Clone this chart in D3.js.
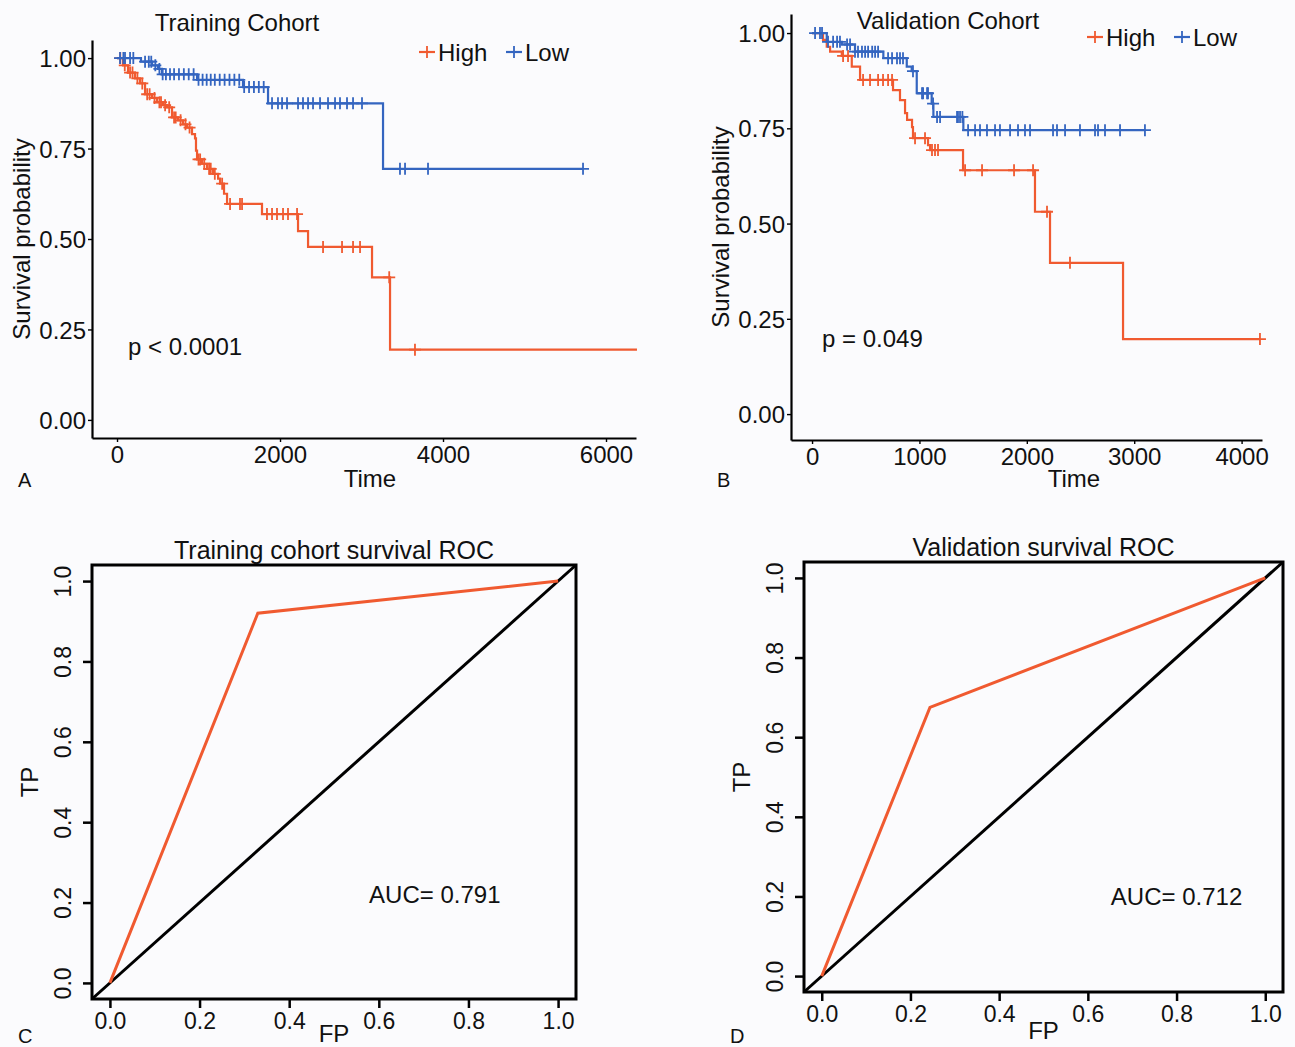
<!DOCTYPE html>
<html>
<head>
<meta charset="utf-8">
<script src="https://cdn.jsdelivr.net/npm/d3@7"></script>
<style>
  body { margin: 0; background: #fbfbfd; }
  text { font-family: "Liberation Sans", Arial, sans-serif; fill: #111; }
</style>
</head>
<body>
<div class="canvas"></div>
<script>
////////// DATA ///////////////////

const groups = ['High', 'Low'];
const survTicks = [0, 0.25, 0.5, 0.75, 1];
const trainTimeTicks = [0, 2000, 4000, 6000];
const validTimeTicks = [0, 1000, 2000, 3000, 4000];
const rocTicks = [0, 0.2, 0.4, 0.6, 0.8, 1];

// training cohort, High risk
const trainHighTime = [74, 135, 220, 282, 344, 430, 490, 565, 613, 675, 748, 810, 859, 920, 957, 969, 982,
    1043, 1104, 1178, 1240, 1264, 1313, 1350, 1779, 2221, 2344, 3129, 3350];
const trainHighSurv = [0.98, 0.96, 0.944, 0.93, 0.90, 0.89, 0.878, 0.87, 0.864, 0.836, 0.828, 0.817, 0.808, 0.79, 0.778, 0.744, 0.72,
    0.708, 0.694, 0.68, 0.667, 0.653, 0.625, 0.597, 0.569, 0.522, 0.478, 0.394, 0.194];
const trainHighCensor = [40, 95, 160, 190, 250, 310, 370, 400, 460, 520, 540, 590, 640, 700, 720, 780, 840, 890,
    1000, 1020, 1070, 1130, 1150, 1200, 1290, 1387, 1509, 1534, 1840, 1902, 1963, 2037, 2098, 2209,
    2528, 2761, 2896, 2982, 3340, 3656];
const trainHighEnd = 6380;

// training cohort, Low risk
const trainLowTime = [294, 430, 503, 552, 982, 1546, 1853, 3264];
const trainLowSurv = [0.99, 0.98, 0.97, 0.955, 0.94, 0.92, 0.875, 0.694];
const trainLowCensor = [37, 78, 98, 160, 200, 344, 390, 420, 470, 520, 560, 600, 650, 700, 760, 820, 880, 940,
    1000, 1050, 1100, 1150, 1200, 1260, 1320, 1380, 1440, 1500, 1560, 1620, 1680, 1740, 1800, 1902, 1975,
    2025, 2086, 2221, 2282, 2344, 2405, 2491, 2589, 2675, 2736, 2822, 2896, 3006, 3472, 3534, 3816, 5718];
const trainLowEnd = 5718;

// validation cohort, High risk
const validHighTime = [102, 137, 168, 277, 370, 447, 754, 819, 866, 885, 931, 940, 1080, 1099, 1406, 2076, 2216, 2896];
const validHighSurv = [0.982, 0.964, 0.951, 0.94, 0.912, 0.877, 0.85, 0.824, 0.79, 0.772, 0.753, 0.724, 0.706, 0.693,
    0.64, 0.531, 0.397, 0.197];
const validHighCensor = [289, 335, 475, 540, 615, 661, 708, 745, 959, 1052, 1117, 1145, 1173, 1425, 1583, 1881,
    2058, 2188, 2402, 4171];
const validHighEnd = 4171;

// validation cohort, Low risk
const validLowTime = [137, 277, 400, 664, 882, 928, 975, 1114, 1130, 1409];
const validLowSurv = [0.977, 0.97, 0.951, 0.934, 0.912, 0.90, 0.842, 0.815, 0.78, 0.745];
const validLowCensor = [28, 74, 93, 149, 196, 233, 260, 326, 354, 400, 428, 465, 494, 522, 560, 587, 615, 708,
    745, 791, 819, 847, 940, 1024, 1034, 1071, 1080, 1127, 1164, 1192, 1350, 1359, 1378, 1400, 1453, 1518,
    1564, 1629, 1704, 1750, 1844, 1918, 1983, 2030, 2244, 2281, 2356, 2495, 2635, 2663, 2728, 2868, 3100];
const validLowEnd = 3100;

// ROC curves
const trainRocFP = [0, 0.33, 1];
const trainRocTP = [0, 0.92, 1];
const validRocFP = [0, 0.244, 1];
const validRocTP = [0, 0.675, 1];
const rocDiag = [-0.04, 1.04];

const red = '#f05a30';
const blue = '#3465c0';

////////// SVG ///////////////////

const svg = d3.select('.canvas')
    .append('svg')
    .attr('width', 1295)
    .attr('height', 1047);

const plus = 'M-6,0H6M0,-6V6';

function survAt(times, surv, t) {
    let s = 1;
    for (let i = 0; i < times.length; i++) {
        if (times[i] <= t) s = surv[i];
    }
    return s;
}

////////// KAPLAN-MEIER PANELS ///////////////////

function drawKM(o) {
    const x = d3.scaleLinear().domain(o.xDomain).range([o.left, o.right]);
    const y = d3.scaleLinear().domain(o.yDomain).range([o.bottom, o.top]);
    const g = svg.append('g');

    const gx = g.append('g')
        .attr('transform', `translate(0, ${o.bottom})`)
        .call(d3.axisBottom(x).tickValues(o.xTicks).tickFormat(d3.format('d')).tickSize(4).tickSizeOuter(0).tickPadding(4));
    const gy = g.append('g')
        .attr('transform', `translate(${o.left}, 0)`)
        .call(d3.axisLeft(y).tickValues(survTicks).tickFormat(d3.format('.2f')).tickSize(4).tickSizeOuter(0).tickPadding(2));

    [gx, gy].forEach(a => {
        a.select('.domain').attr('stroke', '#000').attr('stroke-width', 2.2);
        a.selectAll('.tick line').attr('stroke', '#000').attr('stroke-width', 1.4);
        a.selectAll('text').style('font-size', '24px').attr('fill', '#111');
    });
    gy.selectAll('text').attr('dy', '0.36em');

    const line = d3.line()
        .x(d => x(d[0]))
        .y(d => y(d[1]))
        .curve(d3.curveStepAfter);

    o.curves.forEach(c => {
        const pts = [[0, 1]].concat(c.time.map((t, i) => [t, c.surv[i]]));
        pts.push([c.end, c.surv[c.surv.length - 1]]);
        g.append('path')
            .attr('d', line(pts))
            .attr('fill', 'none')
            .attr('stroke', c.color)
            .attr('stroke-width', 2.2);

        g.selectAll(null)
            .data(c.censor)
            .enter()
            .append('path')
            .attr('d', plus)
            .attr('transform', t => `translate(${x(t)}, ${y(survAt(c.time, c.surv, t))})`)
            .attr('fill', 'none')
            .attr('stroke', c.color)
            .attr('stroke-width', 1.8);
    });

    // title, axis titles, p value
    g.append('text').attr('x', o.titleX).attr('y', o.titleY).attr('text-anchor', 'middle')
        .style('font-size', '24px').text(o.title);
    g.append('text').attr('x', o.timeX).attr('y', 487).attr('text-anchor', 'middle')
        .style('font-size', '24px').text('Time');
    g.append('text')
        .attr('transform', `translate(${o.left - 62}, ${(o.top + o.bottom) / 2}) rotate(-90)`)
        .attr('text-anchor', 'middle')
        .style('font-size', '24px')
        .text('Survival probability');
    g.append('text').attr('x', o.pX).attr('y', o.pY).style('font-size', '24px').text(o.pText);
    g.append('text').attr('x', o.left - 74).attr('y', 487).style('font-size', '20px').text(o.letter);

    // legend
    o.curves.forEach((c, i) => {
        const lx = o.legendX[i];
        const lg = g.append('g').attr('transform', `translate(${lx}, ${o.legendY})`);
        lg.append('line').attr('x1', -8).attr('x2', 8).attr('stroke', c.color).attr('stroke-width', 2.2);
        lg.append('path').attr('d', plus).attr('fill', 'none').attr('stroke', c.color).attr('stroke-width', 1.8);
        lg.append('text').attr('x', 11).attr('y', 8.5).style('font-size', '24px').text(groups[i]);
    });
}

drawKM({
    left: 92, right: 636, top: 40, bottom: 438,
    xDomain: [-307, 6368], yDomain: [-0.05, 1.05], xTicks: trainTimeTicks,
    title: 'Training Cohort', titleX: 237, titleY: 31, timeX: 370,
    pText: 'p < 0.0001', pX: 128, pY: 355,
    letter: 'A',
    legendX: [427, 514], legendY: 52,
    curves: [
        {time: trainHighTime, surv: trainHighSurv, censor: trainHighCensor, end: trainHighEnd, color: red},
        {time: trainLowTime, surv: trainLowSurv, censor: trainLowCensor, end: trainLowEnd, color: blue}
    ]
});

drawKM({
    left: 791, right: 1262, top: 14, bottom: 440,
    xDomain: [-196, 4190], yDomain: [-0.068, 1.05], xTicks: validTimeTicks,
    title: 'Validation Cohort', titleX: 948, titleY: 29, timeX: 1074,
    pText: 'p = 0.049', pX: 822, pY: 347,
    letter: 'B',
    legendX: [1095, 1182], legendY: 37,
    curves: [
        {time: validHighTime, surv: validHighSurv, censor: validHighCensor, end: validHighEnd, color: red},
        {time: validLowTime, surv: validLowSurv, censor: validLowCensor, end: validLowEnd, color: blue}
    ]
});

////////// ROC PANELS ///////////////////

function drawROC(o) {
    const x = d3.scaleLinear().domain([-0.04, 1.04]).range([o.left, o.right]);
    const y = d3.scaleLinear().domain([-0.04, 1.04]).range([o.bottom, o.top]);
    const g = svg.append('g');

    const gx = g.append('g')
        .attr('transform', `translate(0, ${o.bottom})`)
        .call(d3.axisBottom(x).tickValues(rocTicks).tickFormat(d3.format('.1f')).tickSize(9).tickSizeOuter(0).tickPadding(5));
    const gy = g.append('g')
        .attr('transform', `translate(${o.left}, 0)`)
        .call(d3.axisLeft(y).tickValues(rocTicks).tickFormat(d3.format('.1f')).tickSize(9).tickSizeOuter(0));

    [gx, gy].forEach(a => {
        a.select('.domain').remove();
        a.selectAll('.tick line').attr('stroke', '#000').attr('stroke-width', 2.5);
        a.selectAll('text').style('font-size', '23px').attr('fill', '#111');
    });
    gy.selectAll('text')
        .attr('transform', 'rotate(-90)')
        .attr('x', 0)
        .attr('y', -21)
        .attr('dy', 0)
        .attr('text-anchor', 'middle');

    const line = d3.line().x(d => x(d[0])).y(d => y(d[1]));

    g.append('path')
        .attr('d', line(rocDiag.map(v => [v, v])))
        .attr('fill', 'none')
        .attr('stroke', '#000')
        .attr('stroke-width', 3);

    g.append('path')
        .attr('d', line(o.fp.map((v, i) => [v, o.tp[i]])))
        .attr('fill', 'none')
        .attr('stroke', red)
        .attr('stroke-width', 3);

    g.append('rect')
        .attr('x', o.left).attr('y', o.top)
        .attr('width', o.right - o.left).attr('height', o.bottom - o.top)
        .attr('fill', 'none').attr('stroke', '#000').attr('stroke-width', 3);

    g.append('text').attr('x', (o.left + o.right) / 2).attr('y', o.top - 6).attr('text-anchor', 'middle')
        .style('font-size', '25px').text(o.title);
    g.append('text').attr('x', (o.left + o.right) / 2).attr('y', o.fpY).attr('text-anchor', 'middle')
        .style('font-size', '24px').text('FP');
    g.append('text')
        .attr('transform', `translate(${o.left - 54}, ${(o.top + o.bottom) / 2}) rotate(-90)`)
        .attr('text-anchor', 'middle')
        .style('font-size', '24px')
        .text('TP');
    g.append('text').attr('x', x(o.aucAt[0])).attr('y', y(o.aucAt[1]) + 8.5).attr('text-anchor', 'middle')
        .style('font-size', '24px').text(o.auc);
    g.append('text').attr('x', o.left - 74).attr('y', 1043).style('font-size', '20px').text(o.letter);
}

drawROC({
    left: 92, right: 576, top: 565, bottom: 999,
    fp: trainRocFP, tp: trainRocTP,
    title: 'Training cohort survival ROC', fpY: 1042,
    auc: 'AUC= 0.791', aucAt: [0.725, 0.22],
    letter: 'C'
});

drawROC({
    left: 804, right: 1283, top: 562, bottom: 992,
    fp: validRocFP, tp: validRocTP,
    title: 'Validation survival ROC', fpY: 1039,
    auc: 'AUC= 0.712', aucAt: [0.80, 0.2],
    letter: 'D'
});
</script>
</body>
</html>
